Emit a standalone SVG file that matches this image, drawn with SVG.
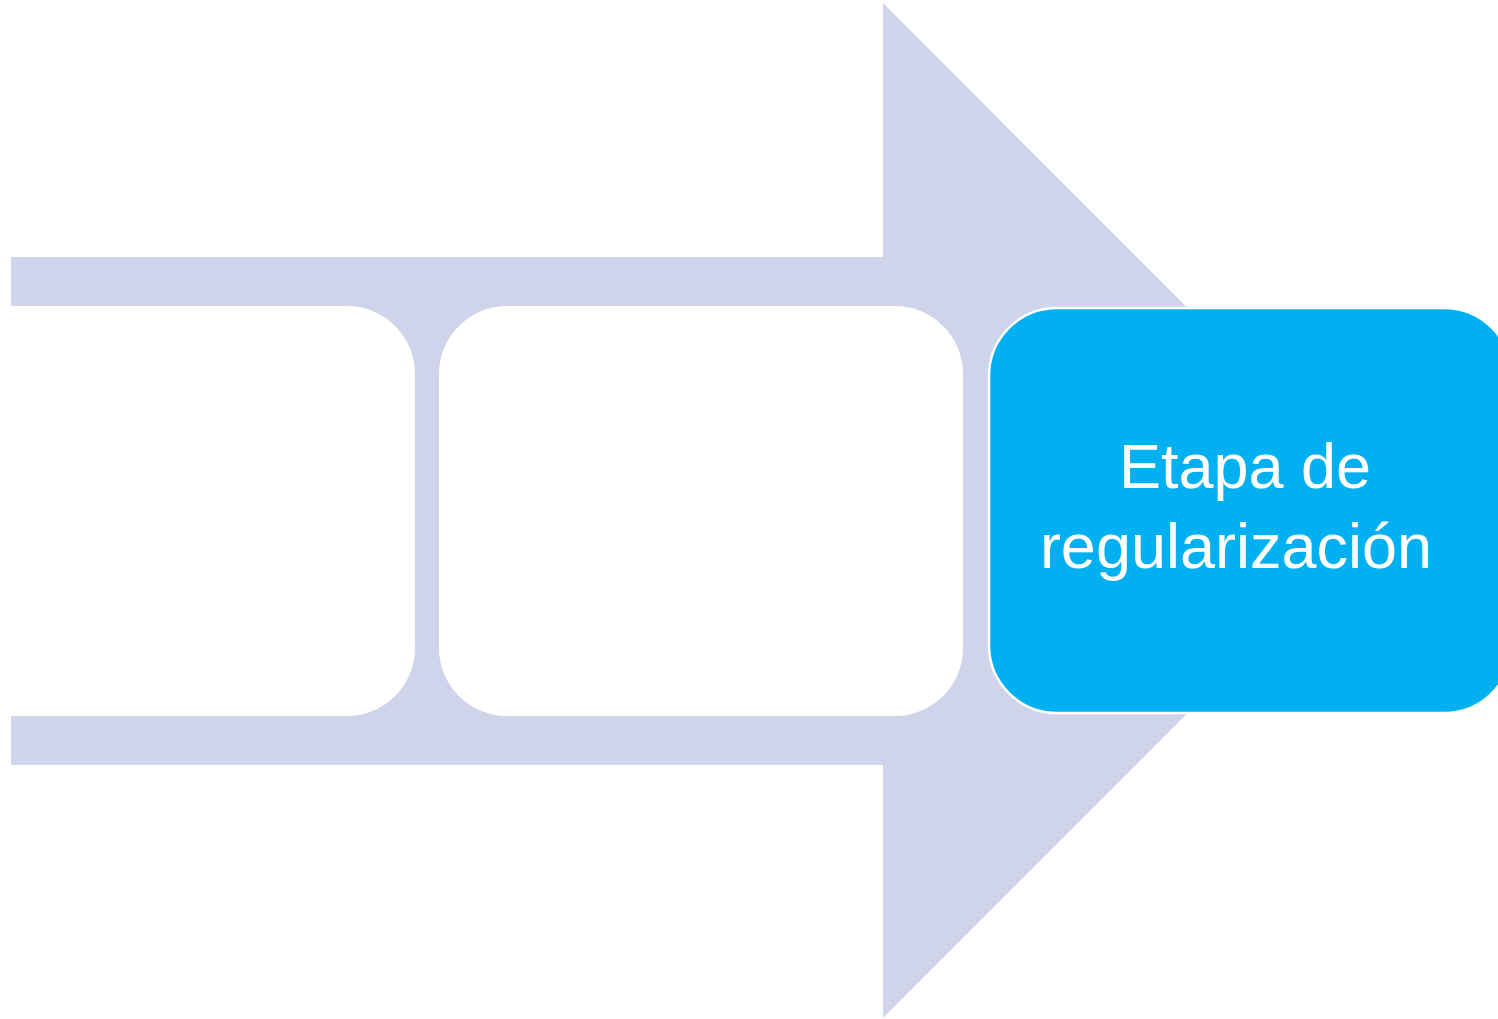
<svg xmlns="http://www.w3.org/2000/svg" width="1498" height="1019" viewBox="0 0 1498 1019">
<style>
.arrow{fill:#D0D4EA}
.box{fill:#FFFFFF}
.active{fill:#00B0F0;stroke:#FFFFFF;stroke-width:2.5}
.label{font-family:"Liberation Sans",Arial,sans-serif;font-size:63px;fill:#FFFFFF;text-anchor:middle}
</style>
<rect width="1498" height="1019" fill="#FFFFFF"/>
<g id="connectors">
<polygon class="arrow" points="11,257 883,257 883,3 1390,510.5 883,1018 883,765 11,765"/>
</g>
<g id="node1">
<rect class="box" x="-109" y="306" width="524" height="410" rx="68" ry="68"/>
</g>
<g id="node2">
<rect class="box" x="439" y="306" width="524" height="410" rx="68" ry="68"/>
</g>
<g id="node3">
<rect class="active" x="989" y="308" width="523" height="405" rx="68" ry="68"/>
<text class="label" x="1245" y="488">Etapa de</text>
<text class="label" x="1236" y="568">regularización</text>
</g>
</svg>
